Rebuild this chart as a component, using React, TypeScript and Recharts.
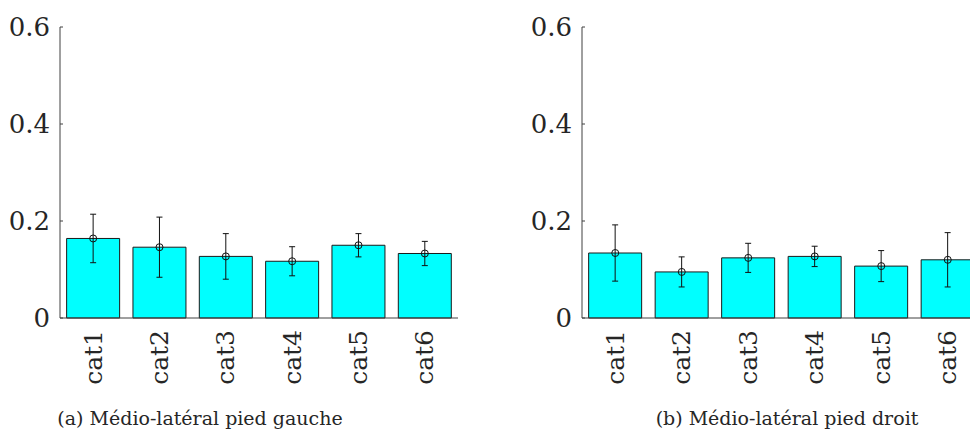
import React from "react";
import {
  ComposedChart,
  Bar,
  Line,
  ErrorBar,
  XAxis,
  YAxis,
} from "recharts";

const CATEGORIES = ["cat1", "cat2", "cat3", "cat4", "cat5", "cat6"];

// (a) Médio-latéral pied gauche
const LEFT_MEANS = [0.164, 0.146, 0.127, 0.117, 0.150, 0.133];
const LEFT_ERRORS = [0.050, 0.062, 0.047, 0.030, 0.024, 0.025];

// (b) Médio-latéral pied droit
const RIGHT_MEANS = [0.134, 0.095, 0.124, 0.127, 0.107, 0.120];
const RIGHT_ERRORS = [0.058, 0.031, 0.030, 0.021, 0.032, 0.056];

const Y_TICKS = [0, 0.2, 0.4, 0.6];

const FONT = "'DejaVu Serif', serif";
const AXIS_COLOR = "#404040";
const TEXT_COLOR = "#262626";

function buildRows(means: number[], errors: number[]) {
  return CATEGORIES.map((name, i) => ({ name, mean: means[i], err: errors[i] }));
}

// y tick: label left of the axis + a short inward tick mark
function YTick(props: any) {
  const { x, y, payload } = props;
  return (
    <g>
      <line x1={x + 10} y1={y} x2={x + 13} y2={y} stroke={AXIS_COLOR} strokeWidth={1} />
      <text
        x={x}
        y={y}
        textAnchor="end"
        dominantBaseline="central"
        style={{ fontFamily: FONT, fontSize: 26 }}
        fill={TEXT_COLOR}
      >
        {payload.value === 0 ? "0" : payload.value.toFixed(1)}
      </text>
    </g>
  );
}

function XTick(props: any) {
  const { x, y, payload } = props;
  return (
    <text
      x={x}
      y={y}
      transform={`rotate(-90, ${x}, ${y})`}
      textAnchor="end"
      dominantBaseline="central"
      style={{ fontFamily: FONT, fontSize: 25 }}
      fill={TEXT_COLOR}
    >
      {payload.value}
    </text>
  );
}

function Panel({ means, errors, width, right }: { means: number[]; errors: number[]; width: number; right: number }) {
  const data = buildRows(means, errors);
  return (
    <ComposedChart
      width={width}
      height={390}
      data={data}
      margin={{ top: 27, right, bottom: 0, left: 0 }}
      barCategoryGap="10%"
    >
      <XAxis
        dataKey="name"
        height={72}
        tickLine={false}
        tickSize={0}
        tickMargin={12}
        axisLine={{ stroke: AXIS_COLOR, strokeWidth: 1 }}
        tick={<XTick />}
        interval={0}
      />
      <YAxis
        width={60}
        domain={[0, 0.6]}
        ticks={Y_TICKS}
        tickLine={false}
        tickSize={0}
        tickMargin={10}
        axisLine={{ stroke: AXIS_COLOR, strokeWidth: 1 }}
        tick={<YTick />}
      />
      <Bar dataKey="mean" fill="#00FFFF" stroke="#1a1a1a" strokeWidth={1} isAnimationActive={false}>
        <ErrorBar dataKey="err" width={3} stroke="#111" strokeWidth={1} direction="y" />
      </Bar>
      <Line
        dataKey="mean"
        stroke="none"
        dot={{ r: 3.5, fill: "none", stroke: "#111", strokeWidth: 1 }}
        activeDot={false}
        isAnimationActive={false}
      />
    </ComposedChart>
  );
}

const captionStyle: React.CSSProperties = {
  position: "absolute",
  top: 418,
  transform: "translate(-50%, -50%)",
  whiteSpace: "nowrap",
  fontFamily: FONT,
  fontSize: 19,
  color: TEXT_COLOR,
};

export default function App() {
  return (
    <div
      style={{
        position: "absolute",
        left: 0,
        top: 0,
        width: 970,
        height: 435,
        overflow: "hidden",
        background: "#fff",
      }}
    >
      <div style={{ position: "absolute", left: 0, top: 0 }}>
        <Panel means={LEFT_MEANS} errors={LEFT_ERRORS} width={470} right={12} />
      </div>
      <div style={{ position: "absolute", left: 522, top: 0 }}>
        <Panel means={RIGHT_MEANS} errors={RIGHT_ERRORS} width={466} right={7} />
      </div>
      <div style={{ ...captionStyle, left: 200 }}>(a) Médio-latéral pied gauche</div>
      <div style={{ ...captionStyle, left: 787 }}>(b) Médio-latéral pied droit</div>
    </div>
  );
}
